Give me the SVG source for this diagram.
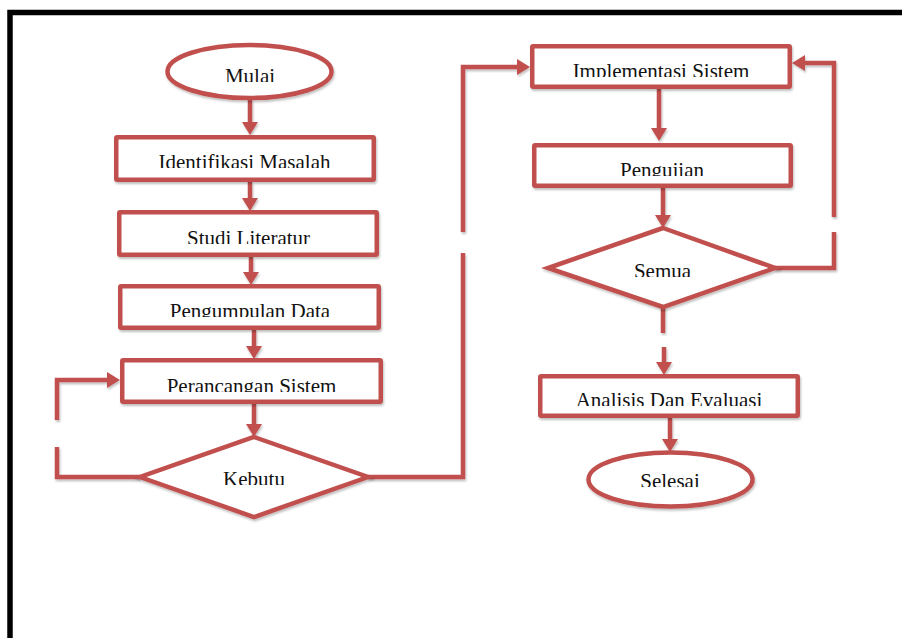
<svg xmlns="http://www.w3.org/2000/svg" width="902" height="638" viewBox="0 0 902 638">
<style>
.n{fill:#fff;stroke:#C0504D;stroke-width:4.5;filter:url(#sh)}
.c{fill:none;stroke:#C0504D;stroke-width:4.5;filter:url(#sh)}
.t{font-family:"Liberation Serif","Times New Roman",serif;font-size:21px;fill:#111;text-anchor:middle}
</style>
<defs>
<filter id="sh" filterUnits="userSpaceOnUse" x="0" y="0" width="902" height="638"><feDropShadow dx="1" dy="2" stdDeviation="1.2" flood-color="#000" flood-opacity="0.25"/></filter>
<marker id="ar" markerUnits="userSpaceOnUse" viewBox="0 0 13 16" markerWidth="13" markerHeight="16" refX="7" refY="8" orient="auto"><path d="M0,0 L13,8 L0,16 z" fill="#C0504D"/></marker>
<clipPath id="k1" clipPathUnits="userSpaceOnUse"><rect x="0" y="0" width="902" height="82"/></clipPath>
<clipPath id="k2" clipPathUnits="userSpaceOnUse"><rect x="0" y="0" width="902" height="168"/></clipPath>
<clipPath id="k3" clipPathUnits="userSpaceOnUse"><rect x="0" y="0" width="902" height="244"/></clipPath>
<clipPath id="k4" clipPathUnits="userSpaceOnUse"><rect x="0" y="0" width="902" height="317"/></clipPath>
<clipPath id="k5" clipPathUnits="userSpaceOnUse"><rect x="0" y="0" width="902" height="392"/></clipPath>
<clipPath id="k6" clipPathUnits="userSpaceOnUse"><rect x="0" y="0" width="902" height="485"/></clipPath>
<clipPath id="k7" clipPathUnits="userSpaceOnUse"><rect x="0" y="0" width="902" height="77"/></clipPath>
<clipPath id="k8" clipPathUnits="userSpaceOnUse"><rect x="0" y="0" width="902" height="176"/></clipPath>
<clipPath id="k9" clipPathUnits="userSpaceOnUse"><rect x="0" y="0" width="902" height="277"/></clipPath>
<clipPath id="k10" clipPathUnits="userSpaceOnUse"><rect x="0" y="0" width="902" height="406"/></clipPath>
<clipPath id="k11" clipPathUnits="userSpaceOnUse"><rect x="0" y="0" width="902" height="487"/></clipPath>
</defs>
<rect x="0" y="0" width="902" height="638" fill="#fff"/>
<rect id="frame" x="10" y="12.5" width="1000" height="1000" fill="none" stroke="#000" stroke-width="5.5"/>

<g id="connectors">
<path class="c" d="M250,100 V129" marker-end="url(#ar)"/>
<path class="c" d="M250,182 V205" marker-end="url(#ar)"/>
<path class="c" d="M251,257 V279" marker-end="url(#ar)"/>
<path class="c" d="M254,330 V353" marker-end="url(#ar)"/>
<path class="c" d="M254,404 V431" marker-end="url(#ar)"/>
<path class="c" d="M140,477 H57 V447"/>
<path class="c" d="M57,420 V380 H114" marker-end="url(#ar)"/>
<path class="c" d="M368,477 H463 V253"/>
<path class="c" d="M463,232 V67 H524" marker-end="url(#ar)"/>
<path class="c" d="M659,89 V135" marker-end="url(#ar)"/>
<path class="c" d="M663,188 V222" marker-end="url(#ar)"/>
<path class="c" d="M775,268 H834 V232"/>
<path class="c" d="M834,217 V63 H798" marker-end="url(#ar)"/>
<path class="c" d="M663,307 V333"/>
<path class="c" d="M664,347 V369" marker-end="url(#ar)"/>
<path class="c" d="M670,418 V446" marker-end="url(#ar)"/>
</g>

<g id="mulai"><ellipse class="n" cx="249.5" cy="71.5" rx="82" ry="26.5"/><text class="t" x="250" y="83" clip-path="url(#k1)">Mulai</text></g>
<g id="identifikasi"><rect class="n" x="116.25" y="137.25" width="257.5" height="42.5" rx="1"/><text class="t" x="244.5" y="169" clip-path="url(#k2)">Identifikasi Masalah</text></g>
<g id="studi"><rect class="n" x="119.25" y="212.25" width="257.5" height="42.5" rx="1"/><text class="t" x="248.5" y="245" clip-path="url(#k3)">Studi Literatur</text></g>
<g id="pengumpulan"><rect class="n" x="120.25" y="286.25" width="258.5" height="41.5" rx="1"/><text class="t" x="250" y="318" clip-path="url(#k4)">Pengumpulan Data</text></g>
<g id="perancangan"><rect class="n" x="122.25" y="360.25" width="258.5" height="41.5" rx="1"/><text class="t" x="251.5" y="393" clip-path="url(#k5)">Perancangan Sistem</text></g>
<g id="kebutuhan"><polygon class="n" points="254,437 368,477 254,517 140,477"/><text class="t" x="254" y="486" clip-path="url(#k6)">Kebutu</text></g>
<g id="implementasi"><rect class="n" x="532.25" y="46.25" width="257.5" height="40.5" rx="1"/><text class="t" x="661" y="78" clip-path="url(#k7)">Implementasi Sistem</text></g>
<g id="pengujian"><rect class="n" x="534.25" y="145.25" width="256.5" height="40.5" rx="1"/><text class="t" x="662" y="177" clip-path="url(#k8)">Pengujian</text></g>
<g id="semua"><polygon class="n" points="663,228 775,268 663,307 548,268"/><text class="t" x="662.5" y="278" clip-path="url(#k9)">Semua</text></g>
<g id="analisis"><rect class="n" x="540.25" y="376.25" width="257.5" height="39.5" rx="1"/><text class="t" x="669" y="407" clip-path="url(#k10)">Analisis Dan Evaluasi</text></g>
<g id="selesai"><ellipse class="n" cx="670.5" cy="479.5" rx="82" ry="27"/><text class="t" x="670" y="488" clip-path="url(#k11)">Selesai</text></g>
</svg>
